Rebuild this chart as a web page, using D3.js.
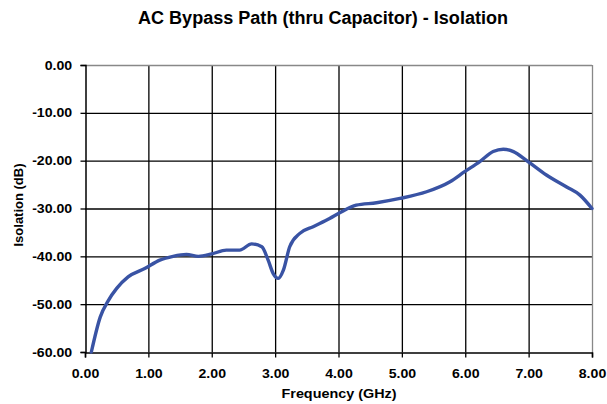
<!DOCTYPE html>
<html><head><meta charset="utf-8">
<script src="https://cdn.jsdelivr.net/npm/d3@7"></script>
<style>body{margin:0;background:#fff}svg{display:block;font-family:"Liberation Sans",Arial,sans-serif}</style>
</head><body>
<svg id="c" width="607" height="404"></svg>
<script>
const title = "AC Bypass Path (thru Capacitor) - Isolation";
const xTitle = "Frequency (GHz)";
const yTitle = "Isolation (dB)";
const xTicks = [0,1,2,3,4,5,6,7,8];
const yTicks = [0,-10,-20,-30,-40,-50,-60];
const freq = [0.10,0.24,0.37,0.50,0.68,0.95,1.18,1.39,1.60,1.79,2.00,2.23,2.44,2.63,2.79,2.89,2.97,3.05,3.13,3.23,3.39,3.60,3.86,4.02,4.28,4.60,4.97,5.39,5.76,5.99,6.23,6.44,6.60,6.76,6.97,7.28,7.60,7.81,8.00];
const isolation = [-60.0,-52.7,-49.2,-46.7,-44.3,-42.5,-40.8,-40.0,-39.6,-40.0,-39.5,-38.7,-38.7,-37.4,-38.0,-40.8,-43.6,-44.6,-42.9,-38.0,-35.2,-33.8,-32.1,-30.9,-29.3,-28.8,-27.9,-26.5,-24.4,-22.3,-20.2,-18.1,-17.6,-18.1,-20.0,-23.0,-25.5,-27.2,-30.0];

const svg = d3.select("#c");
const L=85, R=592, T=65, B=352;
const x = d3.scaleLinear().domain([0,8]).range([L,R]);
const y = d3.scaleLinear().domain([-60,0]).range([B,T]);
const fmt = d => d3.format(".2f")(d).replace("\u2212","-");
const FONT = '"Liberation Sans",Arial,sans-serif';

// grid
svg.append("g").selectAll("line").data(xTicks.filter(d=>d>0&&d<8)).join("line")
  .attr("x1",d=>x(d)+0.5).attr("x2",d=>x(d)+0.5).attr("y1",T).attr("y2",B)
  .attr("stroke","#000").attr("stroke-width",1.3);
svg.append("g").selectAll("line").data(yTicks.filter(d=>d<0&&d>-60)).join("line")
  .attr("x1",L).attr("x2",R).attr("y1",d=>y(d)+0.5).attr("y2",d=>y(d)+0.5)
  .attr("stroke","#000").attr("stroke-width",1.3);
// top/right border gray
svg.append("line").attr("x1",L).attr("x2",R).attr("y1",T+0.5).attr("y2",T+0.5).attr("stroke","#888").attr("stroke-width",1.3);
svg.append("line").attr("x1",R+0.5).attr("x2",R+0.5).attr("y1",T).attr("y2",B).attr("stroke","#888").attr("stroke-width",1.3);

// axes
const xa = svg.append("g").attr("transform",`translate(0,${B+0.5})`)
  .call(d3.axisBottom(x).tickValues(xTicks).tickSize(5).tickFormat(fmt));
const ya = svg.append("g").attr("transform",`translate(${L+0.5},0)`)
  .call(d3.axisLeft(y).tickValues(yTicks).tickSize(5).tickFormat(fmt));
[xa,ya].forEach(a=>{
  a.select(".domain").attr("stroke","#000").attr("stroke-width",1.5);
  a.selectAll(".tick line").attr("stroke","#000").attr("stroke-width",1.3);
  a.selectAll("text").attr("font-size",12.5).attr("font-weight","bold").attr("fill","#000")
   .attr("font-family",FONT).attr("transform","scale(1.13,1)");
});
xa.selectAll("text").attr("y",25.5).attr("dy",0);
ya.selectAll("text").attr("x",-11.8);

// line
const line = d3.line().x((d,i)=>x(freq[i])).y(d=>y(d)).curve(d3.curveMonotoneX);
svg.append("path").datum(isolation).attr("d",line).attr("fill","none")
  .attr("stroke","#3953A4").attr("stroke-width",3.4).attr("stroke-linejoin","round").attr("stroke-linecap","round");

// titles
svg.append("text").attr("x",138).attr("y",23.5).attr("textLength",370).attr("lengthAdjust","spacingAndGlyphs")
  .attr("font-size",18).attr("font-weight","bold").text(title);
svg.append("text").attr("transform","translate(339,398) scale(1.15,1)").attr("text-anchor","middle")
  .attr("font-size",12.5).attr("font-weight","bold").text(xTitle);
svg.append("text").attr("transform","translate(22.5,205) rotate(-90)").attr("text-anchor","middle")
  .attr("font-size",13).attr("font-weight","bold").text(yTitle);
</script>
</body></html>
